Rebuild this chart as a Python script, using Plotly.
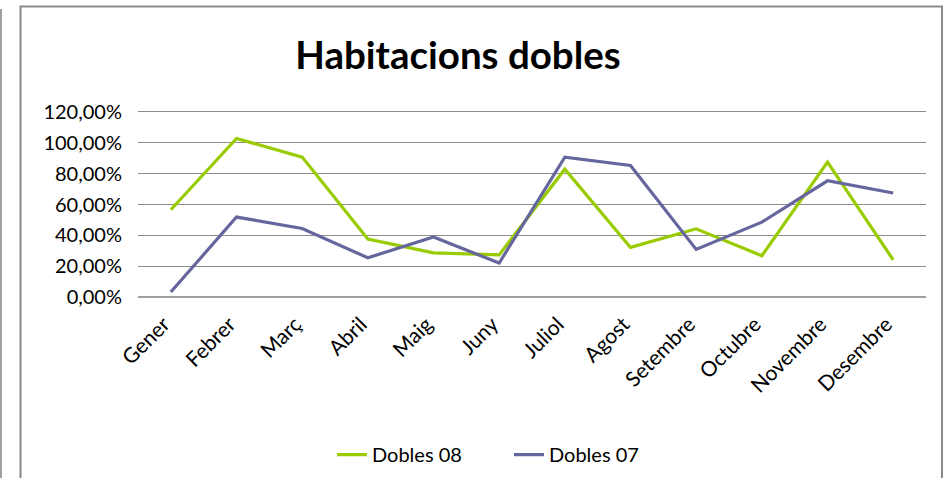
import plotly.graph_objects as go

MONTHS = ["Gener", "Febrer", "Març", "Abril", "Maig", "Juny", "Juliol",
          "Agost", "Setembre", "Octubre", "Novembre", "Desembre"]
DOBLES_08 = [0.566, 1.026, 0.906, 0.377, 0.288, 0.275, 0.828, 0.323, 0.443, 0.269, 0.874, 0.243]
DOBLES_07 = [0.035, 0.519, 0.445, 0.256, 0.390, 0.222, 0.906, 0.852, 0.310, 0.486, 0.753, 0.674]
Y_TICKS = [0, 0.2, 0.4, 0.6, 0.8, 1.0, 1.2]

W, H = 944, 478
# plot area: 120% line at y=111, 0% at y=298, padded by 0.01 on each end so
# plotly keeps the top grid line
L, R, T, B = 138, 18, 109.5, 178.5
PW, PH = W - L - R, H - T - B


def px_x(x):
    return (x - L) / PW


def px_y(y):
    return (H - B - y) / PH


fig = go.Figure()
fig.add_trace(go.Scatter(x=MONTHS, y=DOBLES_08, mode="lines", name="Dobles 08",
                         line={"color": "#99CC00", "width": 3.2}))
fig.add_trace(go.Scatter(x=MONTHS, y=DOBLES_07, mode="lines", name="Dobles 07",
                         line={"color": "#66669E", "width": 3.2}))

# chart frame like the spreadsheet export
fig.add_shape(type="rect", xref="paper", yref="paper",
              x0=px_x(20.5), x1=px_x(942), y0=px_y(490), y1=px_y(5.5),
              line={"color": "#8a8a8a", "width": 2}, layer="below")
fig.add_shape(type="line", xref="paper", yref="paper",
              x0=px_x(1), x1=px_x(1), y0=px_y(490), y1=px_y(8),
              line={"color": "#a0a0a0", "width": 2}, layer="below")

fig.update_layout(
    width=W, height=H,
    margin={"l": L, "r": R, "t": T, "b": B, "autoexpand": False},
    paper_bgcolor="white", plot_bgcolor="white",
    separators=",.",
    font={"family": "Lato, 'Open Sans', sans-serif", "size": 20, "color": "#000000"},
    title={"text": "<b>Habitacions dobles</b>", "x": 458 / W, "xanchor": "center",
           "y": 1 - 56 / H, "yanchor": "middle", "yref": "container",
           "font": {"family": "Lato, sans-serif", "size": 38.5, "color": "#000000"}},
    showlegend=True,
    legend={"orientation": "h", "x": px_x(332), "xanchor": "left",
            "y": px_y(456), "yanchor": "middle", "font": {"size": 20},
            "entrywidth": 132, "entrywidthmode": "pixels", "tracegroupgap": 0},
    xaxis={"showgrid": False, "showline": False, "tickangle": -45, "automargin": False,
           "tickfont": {"size": 21}, "range": [-0.5, 11.5], "zeroline": False,
           "ticklabelstandoff": 8, "ticklabelshift": -7},
    yaxis={"range": [-0.01, 1.21], "tickvals": Y_TICKS, "tickformat": ".2%",
           "automargin": False,
           "showgrid": True, "gridcolor": "#8c8c8c", "gridwidth": 1,
           "zeroline": True, "zerolinecolor": "#a0a0a0", "zerolinewidth": 2,
           "showline": False, "ticklabelstandoff": 15, "tickfont": {"size": 20}},
)

# the page body has a default 8px margin; drop it so the figure fills the window
fig.write_html("out.html", config={"displayModeBar": False},
               post_script="document.body.style.margin='0';")
